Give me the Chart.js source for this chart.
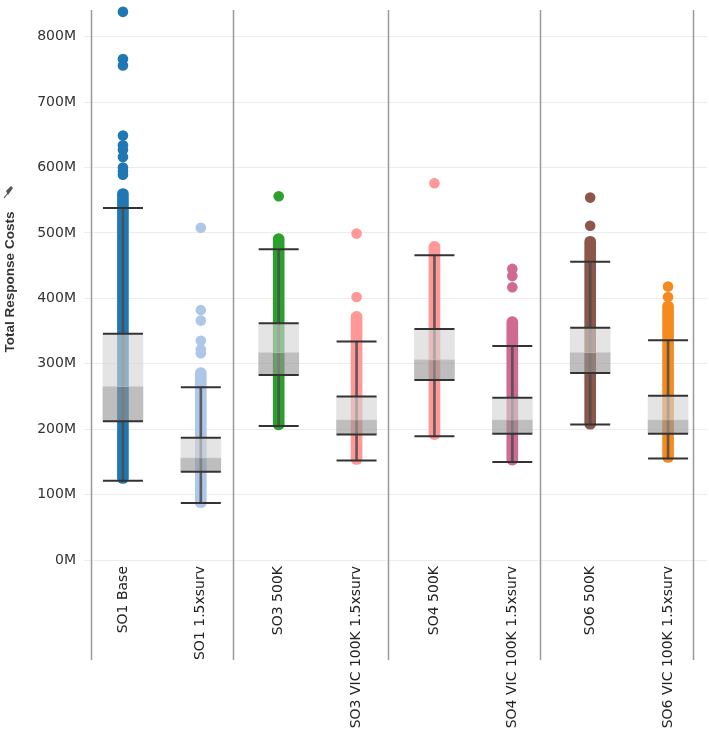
<!DOCTYPE html>
<html>
<head>
<meta charset="utf-8">
<script src="https://cdn.jsdelivr.net/npm/chart.js@4/dist/chart.umd.min.js"></script>
<style>
  html, body { margin: 0; padding: 0; background: #fff; overflow: hidden; }
  #wrap { position: relative; width: 709px; height: 730px; overflow: hidden; }
  /* canvas is a little larger than the page so the plot fills it edge to edge */
  #c { position: absolute; left: 0; top: -18px; }
</style>
</head>
<body>
<div id="wrap"><canvas id="c" width="729" height="748"></canvas></div>
<script>
// values in millions
const categories = ['SO1 Base', 'SO1 1.5xsurv', 'SO3 500K', 'SO3 VIC 100K 1.5xsurv',
                    'SO4 500K', 'SO4 VIC 100K 1.5xsurv', 'SO6 500K', 'SO6 VIC 100K 1.5xsurv'];
const colors = ['#1f77b4', '#aec7e8', '#2ca02c', '#ff9896', '#ff9896', '#cf6a93', '#8c564b', '#f58a1f'];

const whiskerLow  = [121,  87, 205, 152, 189, 150, 207, 155];
const q1          = [212, 135, 283, 192, 275, 193, 286, 193];
const median      = [265, 156, 317, 214, 306, 214, 317, 214];
const q3          = [346, 187, 362, 250, 353, 248, 355, 251];
const whiskerHigh = [538, 264, 475, 334, 466, 327, 456, 336];

// continuous band of overlapping points (bottom / top)
const denseLow  = [117,  80, 199, 146, 184, 145, 200, 149];
const denseHigh = [568, 294, 499, 380, 487, 372, 495, 396];

// separate points above the band
const outliers = [
  [838, 766, 756, 649, 634, 627, 616, 600, 594, 589],
  [508, 382, 366, 335, 322, 316],
  [556],
  [499, 402],
  [576],
  [445, 434, 417],
  [554, 511],
  [418, 402]
];

const yTicks = [0, 100, 200, 300, 400, 500, 600, 700, 800];
const paneEdges = [-0.41, 1.41, 3.41, 5.36, 7.32]; // in category units

const outlierPoints = [];
outliers.forEach((list, i) => list.forEach(v => outlierPoints.push({ x: categories[i], y: v })));

const capStyle = {
  type: 'line', showLine: false, pointStyle: 'line', pointRadius: 20, pointHoverRadius: 20,
  pointBorderWidth: 2, pointHoverBorderWidth: 2, borderColor: '#333', backgroundColor: '#333', order: 0
};

const panes = {
  id: 'panes',
  beforeDatasetsDraw(chart) {
    const { ctx, chartArea, scales: { x } } = chart;
    const p0 = x.getPixelForValue(0), step = x.getPixelForValue(1) - p0;
    ctx.save();
    ctx.strokeStyle = '#9a9a9a';
    ctx.lineWidth = 1.5;
    paneEdges.forEach(e => {
      const px = Math.round(p0 + e * step) + 0.5;
      ctx.beginPath();
      ctx.moveTo(px, chartArea.top + 6);
      ctx.lineTo(px, chartArea.bottom + 100);
      ctx.stroke();
    });
    ctx.restore();
  },
  afterDraw(chart) {
    // small pin next to the axis title
    const { ctx, chartArea } = chart;
    ctx.save();
    ctx.translate(0, chartArea.top);
    ctx.fillStyle = '#555';
    ctx.strokeStyle = '#555';
    ctx.lineWidth = 1.2;
    ctx.beginPath();
    ctx.moveTo(4, 194);
    ctx.lineTo(8, 189);
    ctx.stroke();
    ctx.beginPath();
    ctx.moveTo(6, 187); ctx.lineTo(11, 182); ctx.lineTo(13, 184); ctx.lineTo(8, 191); ctx.closePath();
    ctx.fill();
    ctx.restore();
  }
};

new Chart(document.getElementById('c'), {
  data: {
    labels: categories,
    datasets: [
      { ...capStyle, data: whiskerHigh },
      { ...capStyle, data: whiskerLow },
      { ...capStyle, data: q3 },
      { ...capStyle, data: q1 },
      {
        type: 'bar', grouped: false, order: 1,
        data: categories.map((c, i) => [median[i], q3[i]]),
        backgroundColor: 'rgba(212,212,212,0.62)', barThickness: 40
      },
      {
        type: 'bar', grouped: false, order: 1,
        data: categories.map((c, i) => [q1[i], median[i]]),
        backgroundColor: 'rgba(150,150,150,0.62)', barThickness: 40
      },
      {
        type: 'bar', grouped: false, order: 2,
        data: categories.map((c, i) => [whiskerLow[i], whiskerHigh[i]]),
        backgroundColor: 'rgba(75,75,75,0.85)', barThickness: 2
      },
      {
        type: 'line', showLine: false, order: 3, clip: false,
        data: outlierPoints,
        pointRadius: 5.3, pointHoverRadius: 5.3, pointBorderWidth: 0,
        pointBackgroundColor: ctx => colors[categories.indexOf(ctx.raw.x)]
      },
      {
        type: 'bar', grouped: false, order: 4,
        data: categories.map((c, i) => [denseLow[i], denseHigh[i]]),
        backgroundColor: colors, barThickness: 11,
        borderRadius: 6, borderSkipped: false
      }
    ]
  },
  options: {
    responsive: false,
    animation: false,
    events: [],
    layout: { padding: { top: 2, right: 2, left: 0, bottom: 0 } },
    plugins: { legend: { display: false }, tooltip: { enabled: false } },
    scales: {
      x: {
        type: 'category',
        offset: true,
        grid: { display: false, drawTicks: false },
        border: { display: false },
        afterFit: s => { s.height = 170; },
        ticks: {
          minRotation: 90, maxRotation: 90, padding: 6, autoSkip: false,
          color: '#222', font: { family: 'DejaVu Sans', size: 14 }
        }
      },
      y: {
        min: 0, max: 850,
        grid: { color: '#ececec', lineWidth: 1, drawTicks: false },
        border: { display: false },
        afterFit: s => { s.width = 84; },
        afterBuildTicks: s => { s.ticks = yTicks.map(v => ({ value: v })); },
        ticks: {
          padding: 8, color: '#333',
          font: { family: 'DejaVu Sans', size: 14 },
          callback: v => v + 'M'
        },
        title: {
          display: true, text: 'Total Response Costs', color: '#333',
          padding: { top: 2, bottom: 0 },
          font: { family: 'Liberation Sans', size: 13.5, weight: 'bold' }
        }
      }
    }
  },
  plugins: [panes]
});
</script>
</body>
</html>
